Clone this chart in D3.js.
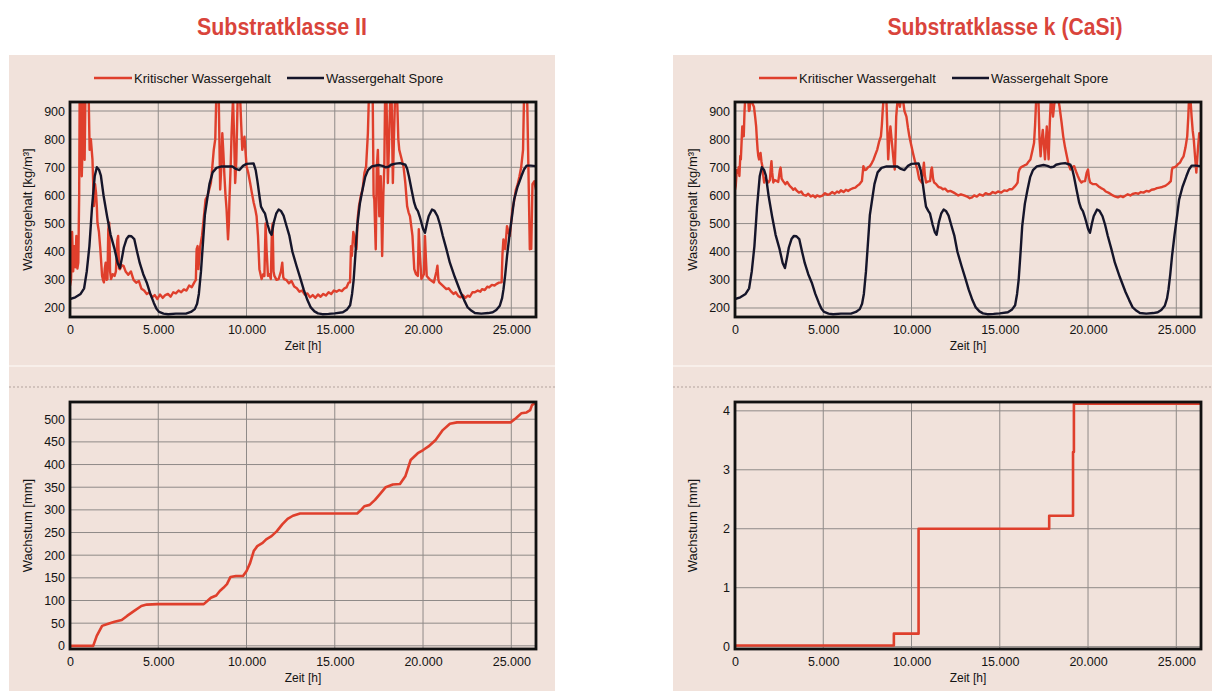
<!DOCTYPE html>
<html>
<head>
<meta charset="utf-8">
<script src="https://cdn.jsdelivr.net/npm/d3@7"></script>
<style>
  body { margin: 0; background: #ffffff; }
  svg { display: block; font-family: "Liberation Sans", Arial, sans-serif; }
</style>
</head>
<body>
<svg id="chart" width="1212" height="691"></svg>
<script>
// ---- Achsen und Beschriftungen ----
const timeTicks = [0, 5000, 10000, 15000, 20000, 25000];
const waterTicks = [200, 300, 400, 500, 600, 700, 800, 900];
const growthTicksII = [0, 50, 100, 150, 200, 250, 300, 350, 400, 450, 500];
const growthTicksK = [0, 1, 2, 3, 4];
const panelTitles = ["Substratklasse II", "Substratklasse k (CaSi)"];
const legendLabels = ["Kritischer Wassergehalt", "Wassergehalt Spore"];

// ---- Wassergehalt der Spore [kg/m³] über die Zeit [h] ----
const sporeWater = [
  [0,232],[300,238],[600,250],[800,270],[950,330],[1100,420],[1250,560],[1400,668],[1520,700],[1650,690],
  [1750,670],[1900,600],[2100,526],[2300,460],[2526,409],[2700,360],[2830,342],[2950,380],[3050,415],[3200,445],
  [3330,456],[3480,455],[3640,445],[3800,400],[3950,360],[4150,320],[4350,290],[4550,250],[4750,218],[4900,197],
  [5050,186],[5300,180],[5560,178],[6000,180],[6570,180],[6850,186],[7070,196],[7200,215],[7300,250],[7420,330],
  [7520,420],[7640,530],[7780,590],[7900,640],[8080,682],[8300,698],[8590,703],[8900,703],[9200,703],[9400,694],
  [9600,690],[9800,705],[10000,712],[10400,714],[10520,690],[10620,650],[10750,590],[10820,560],[10950,545],[11050,535],
  [11200,495],[11320,470],[11420,460],[11550,505],[11680,535],[11820,550],[11950,545],[12100,528],[12250,495],[12430,456],
  [12600,400],[12830,350],[13050,305],[13240,265],[13450,228],[13640,202],[13850,188],[14050,181],[14300,178],[14650,179],
  [15000,181],[15460,185],[15700,195],[15870,210],[15980,250],[16070,300],[16180,400],[16270,490],[16420,570],[16570,620],
  [16720,665],[16880,690],[17100,703],[17480,708],[17700,705],[17890,700],[18050,702],[18190,709],[18450,713],[18700,715],
  [19000,709],[19100,695],[19200,668],[19350,620],[19500,574],[19600,555],[19710,544],[19810,525],[19910,503],[20000,482],
  [20110,467],[20220,500],[20320,526],[20510,550],[20650,545],[20820,526],[20970,495],[21120,456],[21320,410],[21520,361],
  [21800,310],[22130,256],[22330,228],[22530,202],[22750,190],[22940,182],[23300,180],[23700,182],[23950,185],[24150,193],
  [24350,208],[24480,235],[24560,267],[24660,320],[24760,385],[24900,460],[25050,530],[25160,585],[25350,630],[25570,668],
  [25720,692],[25870,706],[26100,706],[26400,704]
];

// ---- Kritischer Wassergehalt, Substratklasse II [kg/m³] ----
const critWaterII = [
  [0,279],[60,300],[120,470],[180,330],[240,420],[300,345],[360,456],[420,340],[470,361],[520,600],
  [546,945],[610,945],[667,668],[720,800],[748,945],[790,945],[829,727],[870,945],[1060,945],[1112,762],
  [1180,800],[1273,727],[1354,562],[1420,640],[1475,609],[1520,560],[1556,503],[1640,470],[1718,409],[1770,360],
  [1819,314],[1870,300],[1920,291],[1970,340],[2021,361],[2070,300],[2122,303],[2170,480],[2223,503],[2270,330],
  [2324,303],[2420,320],[2526,314],[2600,330],[2680,440],[2728,456],[2780,340],[2829,338],[2930,352],[3031,350],
  [3150,330],[3300,318],[3450,330],[3600,300],[3750,290],[3900,296],[4050,268],[4200,262],[4350,250],[4500,256],
  [4650,238],[4800,246],[4950,232],[5100,248],[5250,236],[5400,246],[5550,250],[5700,240],[5850,256],[6000,252],
  [6150,262],[6300,256],[6450,266],[6600,262],[6750,280],[6900,274],[7050,292],[7130,300],[7174,409],[7230,420],
  [7275,338],[7380,420],[7477,456],[7580,520],[7679,585],[7800,600],[7982,644],[8060,700],[8144,762],[8230,800],
  [8285,945],[8427,945],[8508,621],[8570,700],[8629,821],[8690,750],[8750,668],[8810,600],[8871,550],[8952,444],
  [9000,500],[9033,585],[9100,700],[9155,821],[9236,945],[9300,800],[9357,644],[9420,720],[9498,945],[9640,945],
  [9700,850],[9761,762],[9883,809],[10004,703],[10100,680],[10206,644],[10300,610],[10408,574],[10500,550],[10570,526],
  [10650,456],[10731,338],[10853,303],[10950,320],[11014,314],[11080,500],[11135,409],[11216,314],[11300,320],[11378,303],
  [11440,480],[11479,500],[11530,330],[11580,314],[11700,300],[11823,303],[11950,330],[12025,361],[12080,310],[12125,303],
  [12250,300],[12400,288],[12550,296],[12700,276],[12850,270],[13000,258],[13150,262],[13300,248],[13450,252],[13600,238],
  [13750,246],[13900,236],[14050,248],[14200,240],[14350,250],[14500,244],[14650,256],[14800,250],[14950,262],[15100,258],
  [15250,264],[15400,260],[15550,270],[15663,273],[15780,290],[15865,291],[15920,420],[15966,385],[16050,470],[16107,456],
  [16170,420],[16229,409],[16300,520],[16371,562],[16480,600],[16573,621],[16680,680],[16775,703],[16876,821],[16930,945],
  [17150,945],[17200,600],[17240,585],[17321,409],[17380,700],[17442,762],[17523,526],[17604,668],[17685,385],[17750,600],
  [17806,703],[17850,945],[17930,945],[18008,644],[18089,821],[18140,945],[18220,945],[18291,644],[18350,800],[18412,945],
  [18533,945],[18600,800],[18654,762],[18796,727],[18900,700],[18998,644],[19099,562],[19180,540],[19261,526],[19402,456],
  [19503,338],[19600,320],[19705,314],[19760,480],[19806,409],[19907,303],[20050,320],[20109,456],[20160,380],[20210,314],
  [20400,300],[20614,291],[20760,330],[20816,350],[20870,300],[20917,291],[21100,280],[21321,267],[21450,270],[21600,258],
  [21725,250],[21850,256],[22000,242],[22129,238],[22250,246],[22400,236],[22533,244],[22650,240],[22800,256],[22937,256],
  [23100,262],[23250,258],[23341,267],[23500,264],[23650,276],[23746,273],[23900,282],[24050,280],[24150,285],[24300,290],
  [24453,291],[24500,390],[24555,444],[24600,420],[24656,409],[24757,491],[24840,470],[24919,456],[25000,510],[25060,550],
  [25160,580],[25262,621],[25364,640],[25464,668],[25560,700],[25666,762],[25720,945],[25900,945],[25969,703],[26050,409],
  [26131,410],[26200,640],[26300,650],[26400,620]
];

// ---- Kritischer Wassergehalt, Substratklasse k (CaSi) [kg/m³] ----
const critWaterK = [
  [0,620],[41,634],[100,690],[165,681],[210,700],[248,669],[300,740],[331,728],[380,800],[413,845],
  [460,820],[496,810],[540,900],[578,945],[744,945],[790,900],[826,903],[870,945],[930,945],[1000,925],
  [1074,915],[1140,880],[1198,845],[1240,800],[1281,763],[1320,740],[1364,728],[1400,745],[1446,751],[1500,720],
  [1550,704],[1600,670],[1653,646],[1700,660],[1756,658],[1830,650],[1900,646],[1980,655],[2030,700],[2066,722],
  [2110,680],[2169,646],[2250,655],[2376,651],[2450,648],[2540,690],[2583,699],[2640,660],[2727,651],[2850,640],
  [2950,648],[3099,634],[3200,628],[3300,620],[3400,625],[3512,616],[3620,610],[3750,614],[3880,602],[4029,599],
  [4150,606],[4300,596],[4420,600],[4545,593],[4650,600],[4800,596],[4958,599],[5100,608],[5250,602],[5372,605],
  [5500,612],[5650,606],[5780,614],[5888,610],[6000,618],[6150,612],[6280,620],[6405,616],[6550,622],[6700,626],
  [6820,628],[6922,634],[7050,640],[7190,651],[7273,704],[7350,690],[7438,692],[7540,700],[7645,704],[7750,715],
  [7852,728],[7950,745],[8059,763],[8160,790],[8266,810],[8320,850],[8369,903],[8420,945],[8576,945],[8679,728],
  [8740,800],[8803,845],[8870,800],[8927,763],[8990,720],[9051,692],[9100,800],[9133,880],[9216,945],[9300,930],
  [9340,915],[9420,945],[9506,945],[9600,900],[9712,880],[9800,840],[9877,810],[9980,780],[10082,751],[10200,720],
  [10330,692],[10434,658],[10578,646],[10640,680],[10702,716],[10760,670],[10826,646],[10950,650],[11053,651],[11110,690],
  [11156,699],[11220,660],[11280,646],[11400,640],[11530,630],[11650,628],[11776,622],[11900,624],[12050,614],[12200,616],
  [12396,610],[12500,606],[12650,600],[12800,604],[13015,599],[13150,596],[13300,590],[13429,593],[13550,600],[13700,596],
  [13850,604],[14049,599],[14200,608],[14350,604],[14462,605],[14600,612],[14750,608],[14900,614],[15082,610],[15250,618],
  [15400,616],[15550,622],[15701,622],[15850,632],[15950,640],[16011,646],[16060,680],[16115,692],[16200,700],[16321,704],
  [16430,708],[16528,710],[16630,720],[16735,728],[16850,760],[16941,786],[17000,850],[17065,945],[17189,945],[17250,800],
  [17313,739],[17380,800],[17437,833],[17500,780],[17561,728],[17620,800],[17664,845],[17720,780],[17768,728],[17830,850],
  [17892,945],[17960,920],[18016,880],[18080,920],[18140,945],[18300,945],[18387,915],[18500,860],[18594,810],[18700,770],
  [18801,739],[18900,710],[19007,692],[19100,700],[19214,704],[19320,685],[19420,669],[19520,655],[19627,646],[19720,650],
  [19834,651],[19920,680],[19999,692],[20060,660],[20123,646],[20280,640],[20454,640],[20600,632],[20740,626],[20867,622],
  [21000,614],[21150,610],[21280,605],[21400,600],[21550,596],[21694,593],[21850,598],[21980,594],[22107,599],[22250,604],
  [22400,600],[22520,605],[22700,608],[22850,606],[23000,612],[23140,610],[23300,616],[23450,614],[23600,620],[23760,622],
  [23900,626],[24050,628],[24200,630],[24379,634],[24550,642],[24689,651],[24750,690],[24792,699],[24900,700],[24999,704],
  [25100,712],[25206,716],[25300,728],[25412,739],[25520,770],[25619,810],[25680,880],[25722,945],[25800,945],[25867,880],
  [25930,830],[25991,798],[26060,740],[26136,681],[26220,760],[26300,821],[26400,800]
];

// ---- Wachstum [mm], Substratklasse II ----
const growthII = [
  [0,0],[1314,0],[1516,22],[1819,44],[2122,48],[2526,53],[2930,57],[3233,66],[3638,77],[4042,88],
  [4345,91],[4951,92],[7578,92],[7780,99],[7982,106],[8285,111],[8487,121],[8690,128],[8892,136],[9094,152],
  [9398,154],[9802,154],[10004,165],[10206,183],[10408,209],[10610,220],[10913,227],[11115,235],[11418,242],[11721,253],
  [12024,268],[12327,280],[12630,287],[13034,292],[13640,292],[16269,292],[16471,299],[16673,308],[16977,311],[17280,322],
  [17583,336],[17886,350],[18290,356],[18694,357],[18997,374],[19300,410],[19704,425],[20007,432],[20310,440],[20714,454],
  [21119,476],[21523,490],[21927,493],[22331,493],[24959,493],[25262,502],[25565,513],[25868,515],[26070,520],[26171,531],
  [26400,537]
];

// ---- Wachstum [mm], Substratklasse k (CaSi): Werte ab dem jeweiligen Zeitpunkt ----
const growthK = [
  [0,0.02],[9000,0.22],[10400,2.0],[17800,2.22],[19150,3.3],[19200,4.12],[26400,4.12]
];

// ---- Zeichnung ----
const svg = d3.select("#chart");
const panelBg = "#f1e2db";
const redLine = "#df3f2c";
const darkLine = "#15152a";
const gridColor = "#8f8a88";
const textColor = "#141414";
const timeEnd = 26400;

const deFormat = d3.formatLocale({ decimal: ",", thousands: ".", grouping: [3], currency: ["", "€"] }).format(",d");

const panels = [
  { bgX: 9,   bgW: 546, x0: 70,  x1: 536,  titleX: 282,  crit: critWaterII, growth: growthII,
    gTicks: growthTicksII, gDomain: [-7, 538], step: false },
  { bgX: 673, bgW: 539, x0: 735, x1: 1201, titleX: 1005, crit: critWaterK, growth: growthK,
    gTicks: growthTicksK, gDomain: [-0.04, 4.15], step: true }
];

const topBox = { y0: 102, y1: 317 };
const botBox = { y0: 402, y1: 649 };

function drawPlot(g, id, x, y, yTicks, lines, yLabel, box) {
  // Gitterlinien
  g.append("g").selectAll("line").data(timeTicks.slice(1)).join("line")
    .attr("x1", d => x(d)).attr("x2", d => x(d))
    .attr("y1", box.y0).attr("y2", box.y1)
    .attr("stroke", gridColor).attr("stroke-width", 1);
  g.append("g").selectAll("line").data(yTicks).join("line")
    .attr("x1", x.range()[0]).attr("x2", x.range()[1])
    .attr("y1", d => y(d)).attr("y2", d => y(d))
    .attr("stroke", gridColor).attr("stroke-width", 1);

  // Kurven, auf den Plotbereich beschnitten
  g.append("clipPath").attr("id", id).append("rect")
    .attr("x", x.range()[0]).attr("y", box.y0)
    .attr("width", x.range()[1] - x.range()[0]).attr("height", box.y1 - box.y0);
  const plot = g.append("g").attr("clip-path", `url(#${id})`);
  lines.forEach(l => {
    const gen = d3.line().x(d => x(d[0])).y(d => y(d[1])).curve(l.curve || d3.curveLinear);
    plot.append("path").datum(l.data)
      .attr("d", gen).attr("fill", "none")
      .attr("stroke", l.color).attr("stroke-width", l.width)
      .attr("stroke-linejoin", "round");
  });

  // Rahmen
  g.append("rect")
    .attr("x", x.range()[0]).attr("y", box.y0)
    .attr("width", x.range()[1] - x.range()[0]).attr("height", box.y1 - box.y0)
    .attr("fill", "none").attr("stroke", "#111").attr("stroke-width", 2.8);

  // Achsen
  const xAxis = g.append("g").attr("transform", `translate(0,${box.y1})`)
    .call(d3.axisBottom(x).tickValues(timeTicks).tickFormat(deFormat).tickSize(0).tickPadding(8));
  const yAxis = g.append("g").attr("transform", `translate(${x.range()[0]},0)`)
    .call(d3.axisLeft(y).tickValues(yTicks).tickFormat(d3.format("d")).tickSize(0).tickPadding(5));
  [xAxis, yAxis].forEach(a => {
    a.select(".domain").remove();
    a.selectAll("text").attr("font-size", 12.5).attr("fill", textColor)
      .attr("font-family", "'Liberation Sans', Arial, sans-serif");
  });

  // Achsentitel
  const xMid = (x.range()[0] + x.range()[1]) / 2;
  g.append("text").attr("x", xMid).attr("y", box.y1 + 33)
    .attr("text-anchor", "middle").attr("font-size", 12).attr("fill", textColor)
    .text("Zeit [h]");
  g.append("text")
    .attr("transform", `translate(${x.range()[0] - 38},${(box.y0 + box.y1) / 2}) rotate(-90)`)
    .attr("text-anchor", "middle").attr("font-size", 13).attr("fill", textColor)
    .text(yLabel);
}

panels.forEach((p, i) => {
  const g = svg.append("g");

  // Hintergrund
  g.append("rect").attr("x", p.bgX).attr("y", 55).attr("width", p.bgW).attr("height", 636)
    .attr("fill", panelBg);
  g.append("line").attr("x1", p.bgX).attr("x2", p.bgX + p.bgW).attr("y1", 366).attr("y2", 366)
    .attr("stroke", "#f8efea").attr("stroke-width", 2);
  g.append("line").attr("x1", p.bgX).attr("x2", p.bgX + p.bgW).attr("y1", 387).attr("y2", 387)
    .attr("stroke", "#b3a39d").attr("stroke-width", 1).attr("stroke-dasharray", "2,2");

  // Titel
  svg.append("text").attr("x", p.titleX).attr("y", 35)
    .attr("text-anchor", "middle").attr("font-size", 23).attr("font-weight", "bold")
    .attr("fill", "#d9443b").attr("textLength", i === 0 ? 170 : 235).attr("lengthAdjust", "spacingAndGlyphs")
    .text(panelTitles[i]);

  const x = d3.scaleLinear().domain([0, timeEnd]).range([p.x0, p.x1]);

  // Legende
  const lg = g.append("g").attr("transform", `translate(${p.x0 + 24},78)`);
  lg.append("line").attr("x1", 0).attr("x2", 38).attr("stroke", redLine).attr("stroke-width", 2.5);
  lg.append("text").attr("x", 40).attr("y", 4.5).attr("font-size", 13).attr("fill", textColor)
    .text(legendLabels[0]);
  lg.append("line").attr("x1", 193).attr("x2", 230).attr("stroke", darkLine).attr("stroke-width", 2.5);
  lg.append("text").attr("x", 232).attr("y", 4.5).attr("font-size", 13).attr("fill", textColor)
    .text(legendLabels[1]);

  // Wassergehalt
  const yTop = d3.scaleLinear().domain([168, 932]).range([topBox.y1, topBox.y0]);
  drawPlot(g, "clipTop" + i, x, yTop, waterTicks, [
    { data: p.crit, color: redLine, width: 2.4 },
    { data: sporeWater, color: darkLine, width: 2.4 }
  ], "Wassergehalt [kg/m³]", topBox);

  // Wachstum
  const yBot = d3.scaleLinear().domain(p.gDomain).range([botBox.y1, botBox.y0]);
  drawPlot(g, "clipBot" + i, x, yBot, p.gTicks, [
    { data: p.growth, color: redLine, width: 2.6, curve: p.step ? d3.curveStepAfter : d3.curveLinear }
  ], "Wachstum [mm]", botBox);
});
</script>
</body>
</html>
